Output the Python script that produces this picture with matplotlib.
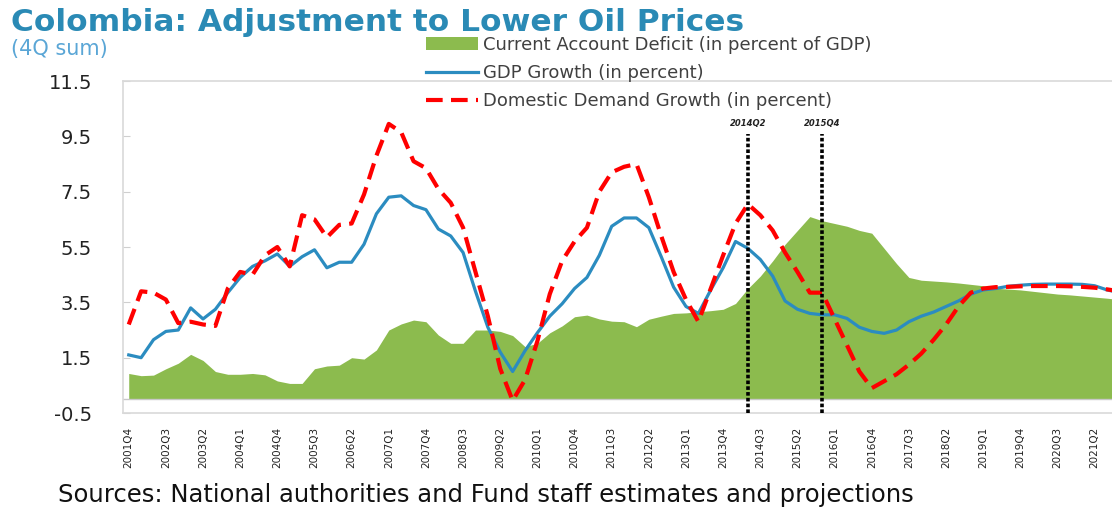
import matplotlib
matplotlib.use("Agg")
import matplotlib.pyplot as plt
from matplotlib.patches import Patch
from matplotlib.lines import Line2D
import numpy as np

# quarterly categories, 2001Q4 .. 2021Q4
quarters = [f"{y}Q{q}" for y in range(2001, 2022) for q in range(1, 5)][3:]

gdp_growth = [
    1.6, 1.5, 2.15, 2.45, 2.5, 3.3, 2.9, 3.25, 3.85, 4.4,
    4.8, 5.0, 5.25, 4.8, 5.15, 5.4, 4.75, 4.95, 4.95, 5.6,
    6.7, 7.3, 7.35, 7.0, 6.85, 6.15, 5.9, 5.3, 3.9, 2.6,
    1.7, 1.0, 1.75, 2.4, 3.0, 3.45, 4.0, 4.4, 5.2, 6.25,
    6.55, 6.55, 6.2, 5.15, 4.05, 3.35, 3.1, 3.95, 4.75, 5.7,
    5.45, 5.05, 4.45, 3.55, 3.25, 3.1, 3.05, 3.05, 2.92, 2.6,
    2.45, 2.38, 2.5, 2.8, 3.0, 3.15, 3.35, 3.55, 3.8, 3.95,
    4.0, 4.08, 4.12, 4.15, 4.16, 4.16, 4.16, 4.15, 4.1, 3.95,
    3.85,
]

dd_growth = [
    2.7, 3.9, 3.85, 3.6, 2.75, 2.8, 2.7, 2.65, 4.0, 4.6,
    4.5, 5.2, 5.5, 4.8, 6.65, 6.5, 5.85, 6.3, 6.35, 7.4,
    8.8, 9.95, 9.65, 8.6, 8.35, 7.6, 7.1, 6.2, 4.6, 3.0,
    1.1, -0.05, 0.7, 2.1, 3.8, 5.0, 5.7, 6.2, 7.5, 8.2,
    8.4, 8.5, 7.3, 5.9, 4.6, 3.6, 2.8, 4.0, 5.2, 6.35,
    7.05, 6.65, 6.1, 5.3, 4.6, 3.85, 3.85, 2.9, 1.95, 1.0,
    0.4, 0.65, 0.9, 1.25, 1.65, 2.15, 2.7, 3.35, 3.85, 4.0,
    4.05, 4.06, 4.08, 4.09, 4.09, 4.09, 4.08, 4.06, 4.03, 3.97,
    3.9,
]

ca_deficit = [
    0.93, 0.85, 0.87, 1.1, 1.3, 1.62, 1.4, 1.0, 0.9, 0.9,
    0.93, 0.88, 0.66, 0.57, 0.57, 1.1, 1.2, 1.23, 1.5, 1.45,
    1.78, 2.5, 2.72, 2.86, 2.8, 2.32, 2.02, 2.02, 2.5, 2.5,
    2.45, 2.3, 1.9, 2.02, 2.4, 2.65, 2.98, 3.04, 2.9, 2.82,
    2.8, 2.62, 2.89, 3.0, 3.1, 3.12, 3.16, 3.2, 3.25, 3.46,
    4.0, 4.45, 5.0, 5.6, 6.1, 6.6, 6.45, 6.35, 6.25, 6.1,
    6.0, 5.45, 4.9, 4.4, 4.3, 4.27, 4.24, 4.2, 4.15, 4.1,
    4.01, 3.98, 3.95, 3.9, 3.85, 3.8, 3.77, 3.73, 3.69, 3.65,
    3.6,
]

events = ["2014Q2", "2015Q4"]
y_ticks = [-0.5, 1.5, 3.5, 5.5, 7.5, 9.5, 11.5]

GREEN = "#8cbb4e"
BLUE = "#2b8cc0"
RED = "#ff0000"
TITLE_BLUE = "#2a8ab5"

x = np.arange(len(quarters))

fig = plt.figure(figsize=(11.12, 5.15), dpi=100)
ax = fig.add_axes([0.1102, 0.198, 0.8898, 0.6447])

ax.fill_between(x, 0, ca_deficit, color=GREEN, linewidth=0, zorder=1)
ax.axhline(0, color="#c8c8c8", linewidth=1, zorder=1.5)
ax.plot(x, gdp_growth, color=BLUE, linewidth=2.3, zorder=3)
ax.plot(x, dd_growth, color=RED, linewidth=3, dashes=(4, 2), zorder=4)

for ev in events:
    xi = quarters.index(ev)
    ax.vlines(xi, -0.5, 9.6, color="black", linewidth=2.6,
              linestyles=(0, (1, 0.6)), zorder=5)
    ax.text(xi, 9.8, ev, ha="center", va="bottom", fontsize=6,
            style="italic", fontweight="bold", color="#222222")

ax.set_xlim(-0.5, 79.4)
ax.set_ylim(-0.5, 11.5)
ax.set_yticks(y_ticks)
ax.set_yticklabels([f"{v:.1f}" for v in y_ticks], fontsize=14, color="#222222")
ax.tick_params(axis="y", direction="in", length=5, color="#cfcfcf", pad=22)

tick_idx = x[::3][:27]
ax.set_xticks(tick_idx)
ax.set_xticklabels([quarters[i] for i in tick_idx], rotation=90, fontsize=7.5,
                   color="#222222")
ax.tick_params(axis="x", length=0, pad=10)

for side in ["left", "top", "bottom"]:
    ax.spines[side].set_color("#d9d9d9")
    ax.spines[side].set_linewidth(1.2)
ax.spines["right"].set_visible(False)

handles = [
    Patch(facecolor=GREEN, edgecolor="none"),
    Line2D([], [], color=BLUE, linewidth=2.3),
    Line2D([], [], color=RED, linewidth=3, dashes=(4, 2)),
]
labels = [
    "Current Account Deficit (in percent of GDP)",
    "GDP Growth (in percent)",
    "Domestic Demand Growth (in percent)",
]
fig.legend(handles, labels, loc="upper left", bbox_to_anchor=(0.383, 0.930),
           frameon=False, fontsize=13, handlelength=2.9, handletextpad=0.25,
           labelspacing=0.55, borderaxespad=0, borderpad=0,
           labelcolor="#404040")

fig.text(0.010, 0.984, "Colombia: Adjustment to Lower Oil Prices",
         fontsize=22.5, fontweight="bold", color=TITLE_BLUE, va="top", ha="left")
fig.text(0.010, 0.905, "(4Q sum)", fontsize=15, color="#5aa6d6",
         va="center", ha="left")
fig.text(0.052, 0.015, "Sources: National authorities and Fund staff estimates and projections",
         fontsize=17.5, color="#111111", va="bottom", ha="left")

fig.savefig("out.png", dpi=100)
